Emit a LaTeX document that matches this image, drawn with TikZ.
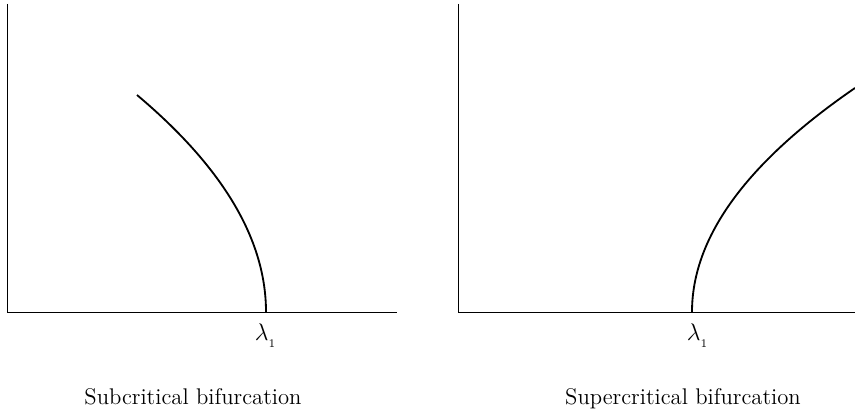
\documentclass[tikz,border=0pt]{standalone}
\begin{document}
\begin{tikzpicture}[x=0.6pt,y=-0.6pt,
  axis/.style={line width=0.55pt},
  branch/.style={line width=1.1pt},
  lbl/.style={inner sep=0pt,font=\fontsize{13.6}{16}\selectfont}]
\useasboundingbox (0,0) rectangle (855,410);
% left panel
\coordinate (LO) at (7,312);
\coordinate (LT) at (7,4);
\coordinate (LR) at (397,312);
\draw[axis] (LT) -- (LO) -- (LR);
\draw[branch] plot[domain=0:217,samples=80,smooth] ({266-129*(\x/217)^2},{312-\x});
\node[lbl,anchor=base] (l1) at (266,341) {$\lambda_{_1}$};
\node[lbl,anchor=base] (sub) at (193,405) {Subcritical bifurcation};
% right panel
\coordinate (RO) at (458,312);
\coordinate (RT) at (458,4);
\coordinate (RR) at (855,312);
\draw[axis] (RT) -- (RO) -- (RR);
\draw[branch] plot[domain=0:224,samples=80,smooth] ({692+163*(\x/224)^2},{312-\x});
\node[lbl,anchor=base] (l2) at (698,341) {$\lambda_{_1}$};
\node[lbl,anchor=base] (sup) at (683,405) {Supercritical bifurcation};
\end{tikzpicture}
\end{document}
